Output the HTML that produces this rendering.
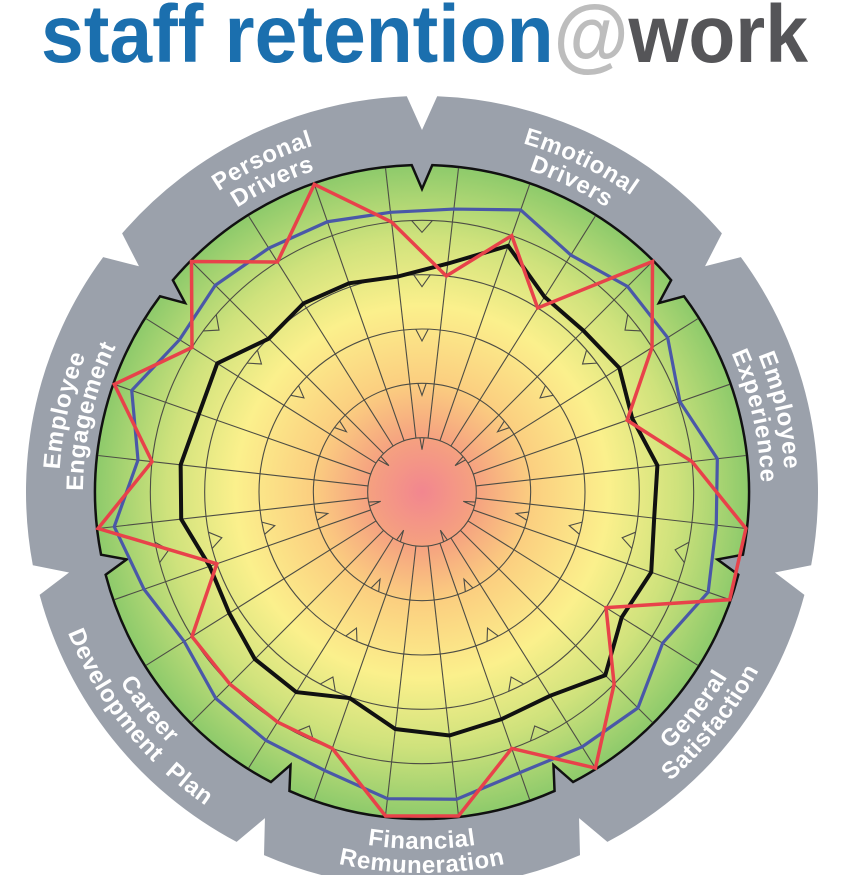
<!DOCTYPE html>
<html><head><meta charset="utf-8"><style>
html,body{margin:0;padding:0;background:#fff;}
svg{display:block;}
</style></head><body>
<svg id="chart" width="861" height="875" viewBox="0 0 861 875" xmlns="http://www.w3.org/2000/svg">
<defs>
<radialGradient id="bg" cx="422" cy="492" r="327" gradientUnits="userSpaceOnUse">
<stop offset="0" stop-color="#f2868f"/>
<stop offset="0.16" stop-color="#f5a080"/>
<stop offset="0.34" stop-color="#fbcf80"/>
<stop offset="0.57" stop-color="#fbf08c"/>
<stop offset="0.78" stop-color="#cfe27c"/>
<stop offset="1" stop-color="#8dca6b"/>
</radialGradient>
</defs>
<text x="41" y="62" textLength="767" lengthAdjust="spacingAndGlyphs" font-family="Liberation Sans, sans-serif" font-weight="bold" font-size="82"><tspan fill="#1b6fae">staff retention</tspan><tspan fill="#bdbdbd">@</tspan><tspan fill="#555558">work</tspan></text>
<g id="layer"></g>
</svg>
<script>
const categories = ["Emotional Drivers","Employee Experience","General Satisfaction","Financial Remuneration","Career Development Plan","Employee Engagement","Personal Drivers"];
const spokeCount = 28;
const ringTicks = [1,2,3,4,5,6];
const redValues = [4,5,4,6,5,4,5,6,6,4,5,6,5,6,6,5,5,5,5,4,6,5,6,5,6,5,6,5];
const blueValues = [5.24,5.5,5.15,5.35,5.34,5.03,5.47,5.45,5.58,5.23,5.62,5.54,5.47,5.69,5.68,5.43,5.4,5.37,5.17,5.42,5.7,5.26,5.66,5.27,5.38,5.3,5.27,5.18];
const blackValues = [4.23,4.8,4.24,4.2,4.29,4.1,4.36,4.3,4.47,4.34,4.77,4.43,4.43,4.51,4.39,4.02,4.35,4.35,4.19,4.14,4.46,4.47,4.35,4.45,3.99,4.1,4.07,3.99];

const NS="http://www.w3.org/2000/svg";
const cx=422, cy=492, maxV=6, R=326;
const layer=document.getElementById('layer');
function rScale(v){return v/maxV*R;}
function spokeAngle(k){return (k+0.5)*360/spokeCount;}
function pt(a,r){const t=a*Math.PI/180;return [cx+r*Math.sin(t), cy-r*Math.cos(t)];}
function mk(tag,attrs){const e=document.createElementNS(NS,tag);for(const k in attrs)e.setAttribute(k,attrs[k]);layer.appendChild(e);return e;}
const nSec=categories.length, secW=360/nSec;

let d="";
for(let j=0;j<nSec;j++){
  const b=j*secW;
  const p1=pt(b+2.2,396), p2=pt(b+secW-2.2,396), p3=pt(b+secW,362);
  if(j===0) d+=`M${p1[0]},${p1[1]}`;
  d+=` A396,396 0 0 1 ${p2[0]},${p2[1]} L${p3[0]},${p3[1]}`;
  const n=pt(b+secW+2.2,396); d+=` L${n[0]},${n[1]}`;
}
d+="Z";
let e=mk('path',{d:d,fill:'#9ba1ab'});



d="";
for(let j=0;j<nSec;j++){
  const b=j*secW;
  const p1=pt(b+1.8,327), p2=pt(b+secW-1.8,327), p3=pt(b+secW,303);
  if(j===0) d+=`M${p1[0]},${p1[1]}`;
  d+=` A327,327 0 0 1 ${p2[0]},${p2[1]} L${p3[0]},${p3[1]}`;
  const n=pt(b+secW+1.8,327); d+=` L${n[0]},${n[1]}`;
}
d+="Z";
e=mk('path',{d:d,fill:'url(#bg)',stroke:'#111',"stroke-width":2.5,"stroke-linejoin":"miter"});



ringTicks.slice(0,5).forEach(t=>{
  const r=rScale(t);
  let c=mk('circle',{cx:cx,cy:cy,r:r,fill:'none',stroke:'#4d4d45',"stroke-width":1.1});
  
  
  for(let j=0;j<nSec;j++){
    const b=j*secW, a=pt(b-2.2,r), m=pt(b,r-12), z=pt(b+2.2,r);
    let v=mk('path',{d:`M${a[0]},${a[1]} L${m[0]},${m[1]} L${z[0]},${z[1]}`,fill:'none',stroke:'#4d4d45',"stroke-width":1.1});
    
    
  }
});
for(let k=0;k<spokeCount;k++){
  const a=spokeAngle(k), p=pt(a,rScale(1)), q=pt(a,rScale(6));
  let s=mk('line',{x1:p[0],y1:p[1],x2:q[0],y2:q[1],stroke:'#4d4d45',"stroke-width":1.1});
  
  
}
function series(vals,color,w,name){
  const pts=vals.map((v,k)=>pt(spokeAngle(k),rScale(v)).join(',')).join(' ');
  let p=mk('polygon',{points:pts,fill:'none',stroke:color,"stroke-width":w,"stroke-linejoin":"miter"});
  
  
}
series(blackValues,'#111',4,'series-black');
series(blueValues,'#4a58a8',3.2,'series-blue');
series(redValues,'#e8424a',3.5,'series-red');

const labelLines=[["Emotional","Drivers"],["Employee","Experience"],["General","Satisfaction"],["Financial","Remuneration"],["Career","Development  Plan"],["Employee","Engagement"],["Personal","Drivers"]];
const ccw=[false,false,true,true,true,false,false];
labelLines.forEach((lines,j)=>{
  const c=(j+0.5)*secW;
  lines.forEach((txt,li)=>{
    let r, dd;
    if(!ccw[j]){
      r = li===0?363:339;
      const a=pt(c-80,r), b=pt(c+80,r);
      dd=`M${a[0]},${a[1]} A${r},${r} 0 0 1 ${b[0]},${b[1]}`;
    } else {
      r = li===0?357:381;
      const a=pt(c+80,r), b=pt(c-80,r);
      dd=`M${a[0]},${a[1]} A${r},${r} 0 0 0 ${b[0]},${b[1]}`;
    }
    const id='lp'+j+'_'+li;
    mk('path',{id:id,d:dd,fill:'none',stroke:'none'});
    const t=mk('text',{"font-family":"Liberation Sans, sans-serif","font-weight":"bold","font-size":"24",fill:'#fff',"letter-spacing":"0.6"});
    
    
    const tp=document.createElementNS(NS,'textPath');
    tp.setAttribute('href','#'+id);
    tp.setAttribute('startOffset','50%');
    tp.setAttribute('text-anchor','middle');
    tp.setAttribute('style','white-space:pre');
    tp.textContent=txt;
    t.appendChild(tp);
  });
});
</script>
</body></html>
